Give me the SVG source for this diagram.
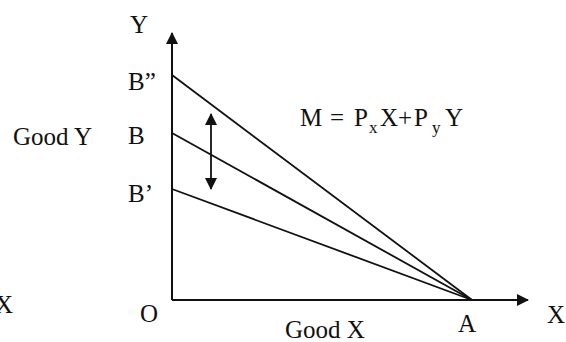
<svg xmlns="http://www.w3.org/2000/svg" width="566" height="342" viewBox="0 0 566 342">
<defs>
<style>
text{font-family:"Liberation Serif","Times New Roman",serif;font-size:25px;fill:#111}
.ax{stroke:#111;stroke-width:2;fill:none}
.ln{stroke:#111;stroke-width:1.8;fill:none}
.sub{font-size:17px}
</style>
<marker id="ah" viewBox="0 0 12 12" refX="11" refY="6" markerWidth="12" markerHeight="12" markerUnits="userSpaceOnUse" orient="auto-start-reverse">
<path d="M0,0 L12,6 L0,12 Z" fill="#111"/>
</marker>
</defs>
<g id="axes">
<line class="ax" x1="172" y1="300" x2="172" y2="33" marker-end="url(#ah)"/>
<line class="ax" x1="172" y1="300" x2="528" y2="300" marker-end="url(#ah)"/>
</g>
<g id="connectors">
<line class="ln" x1="172" y1="75" x2="472" y2="300"/>
<line class="ln" x1="172" y1="133" x2="472" y2="300"/>
<line class="ln" x1="172" y1="189" x2="472" y2="300"/>
<line class="ln" x1="211" y1="114" x2="211" y2="189" marker-start="url(#ah)" marker-end="url(#ah)"/>
</g>
<g id="labels">
<text x="130" y="33">Y</text>
<text x="128" y="90">B”</text>
<text x="128" y="144">B</text>
<text x="128" y="202">B’</text>
<text x="13" y="145">Good Y</text>
<text x="140" y="322">O</text>
<text x="285" y="338">Good X</text>
<text x="458" y="332">A</text>
<text x="547" y="323">X</text>
<text x="-5" y="313">X</text>
<text y="126" style="font-size:25px"><tspan x="300">M</tspan><tspan x="330">=</tspan><tspan x="354">P</tspan><tspan class="sub" x="369" y="133">x</tspan><tspan x="380" y="126">X</tspan><tspan x="398">+</tspan><tspan x="414">P</tspan><tspan class="sub" x="432" y="133">y</tspan><tspan x="445" y="126">Y</tspan></text>
</g>
</svg>
